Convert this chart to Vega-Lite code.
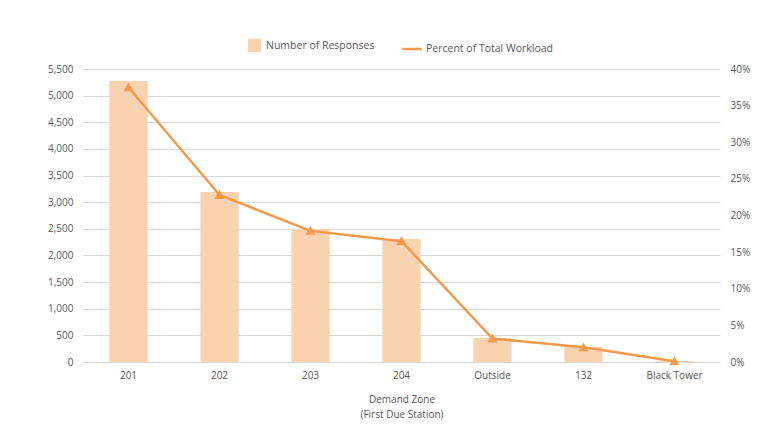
{
  "$schema": "https://vega.github.io/schema/vega-lite/v6.json",
  "width": 637,
  "height": 293,
  "autosize": {"type": "none"},
  "padding": {"left": 83, "top": 69, "right": 48, "bottom": 78},
  "background": "white",
  "config": {
    "view": {"stroke": null},
    "font": "Open Sans",
    "axis": {"labelFont": "Open Sans", "labelFontSize": 10, "labelColor": "#595959", "titleFont": "Open Sans", "titleFontSize": 10, "titleFontWeight": "normal", "titleColor": "#595959"},
    "legend": {"labelFont": "Open Sans", "labelFontSize": 10.5, "labelColor": "#595959"}
  },
  "data": {
    "values": [
      {"zone": "201", "responses": 5275, "pct": 0.375, "s1": "Number of Responses", "s2": "Percent of Total Workload"},
      {"zone": "202", "responses": 3191, "pct": 0.228, "s1": "Number of Responses", "s2": "Percent of Total Workload"},
      {"zone": "203", "responses": 2497, "pct": 0.179, "s1": "Number of Responses", "s2": "Percent of Total Workload"},
      {"zone": "204", "responses": 2309, "pct": 0.165, "s1": "Number of Responses", "s2": "Percent of Total Workload"},
      {"zone": "Outside", "responses": 450, "pct": 0.032, "s1": "Number of Responses", "s2": "Percent of Total Workload"},
      {"zone": "132", "responses": 282, "pct": 0.02, "s1": "Number of Responses", "s2": "Percent of Total Workload"},
      {"zone": "Black Tower", "responses": 20, "pct": 0.001, "s1": "Number of Responses", "s2": "Percent of Total Workload"}
    ]
  },
  "encoding": {
    "x": {
      "field": "zone", "type": "nominal", "sort": null,
      "scale": {"paddingInner": 0.58, "paddingOuter": 0.29},
      "axis": {"title": ["Demand Zone", "(First Due Station)"], "labelAngle": 0, "ticks": false, "domainColor": "#D9D9D9", "labelPadding": 8, "titlePadding": 14, "titleLineHeight": 15}
    }
  },
  "layer": [
    {
      "mark": {"type": "bar", "color": "#F9D2B0"},
      "encoding": {
        "y": {
          "field": "responses", "type": "quantitative",
          "scale": {"domain": [0, 5500], "nice": false},
          "axis": {"title": null, "values": [0,500,1000,1500,2000,2500,3000,3500,4000,4500,5000,5500], "format": ",d", "domain": false, "ticks": false, "gridColor": "#D9D9D9", "labelPadding": 10}
        },
        "fill": {
          "field": "s1", "type": "nominal",
          "scale": {"range": ["#F9D2B0"]},
          "legend": {"title": null, "orient": "none", "legendX": 164, "legendY": -31, "symbolType": "square", "symbolSize": 180, "labelOffset": 4}
        }
      }
    },
    {
      "mark": {"type": "line", "color": "#F49A4A", "strokeWidth": 2.5, "point": {"shape": "triangle-up", "filled": true, "size": 45, "color": "#F49A4A"}},
      "encoding": {
        "y": {
          "field": "pct", "type": "quantitative",
          "scale": {"domain": [0, 0.4], "nice": false},
          "axis": {"title": null, "orient": "right", "values": [0,0.05,0.1,0.15,0.2,0.25,0.3,0.35,0.4], "format": ".0%", "domain": false, "ticks": false, "grid": false, "labelPadding": 10}
        },
        "stroke": {
          "field": "s2", "type": "nominal",
          "scale": {"range": ["#F49A4A"]},
          "legend": {"title": null, "orient": "none", "legendX": 318, "legendY": -31, "symbolType": "stroke", "symbolSize": 380, "symbolStrokeWidth": 2.5, "labelOffset": 3}
        }
      }
    }
  ],
  "resolve": {"scale": {"y": "independent"}}
}
